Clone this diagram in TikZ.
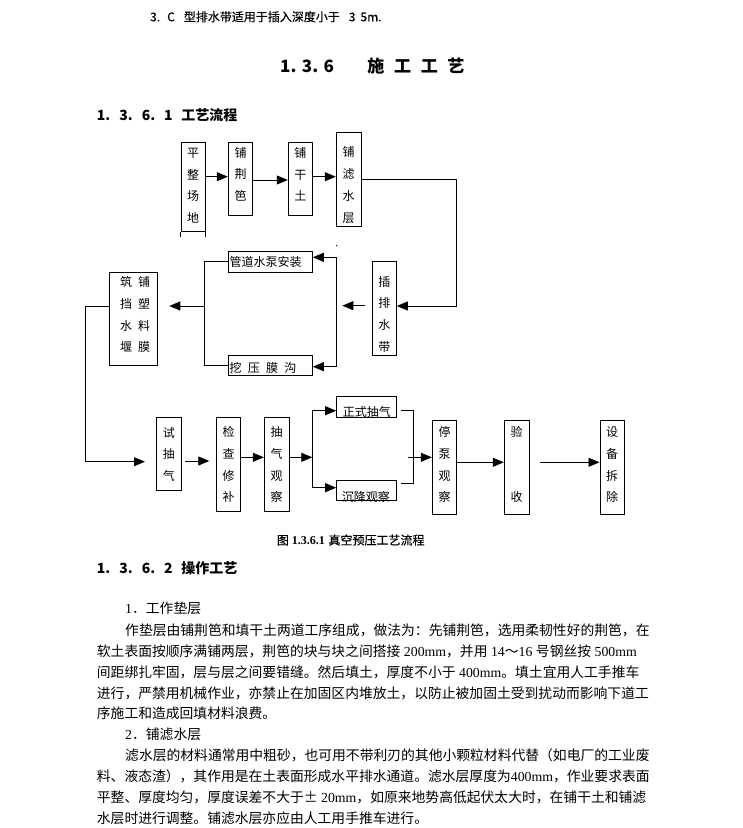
\documentclass[tikz,border=0pt]{standalone}
\usepackage{fontspec}
\setmainfont{Liberation Serif}
\newfontfamily\cjk{Noto Sans CJK SC}
\newfontfamily\cjkm{Noto Sans CJK SC}[FakeBold=0.5]
\usetikzlibrary{arrows.meta,fit}
\XeTeXinterchartokenstate=1
\XeTeXinterchartoks 1 1 = {\hskip 0pt plus 1pt\relax}
\XeTeXinterchartoks 1 2 = {\hskip 0pt plus 1pt\relax}
\XeTeXinterchartoks 1 3 = {\hskip 0pt plus 1pt\relax}
\XeTeXinterchartoks 2 1 = {\hskip 0pt plus 1pt\relax}
\XeTeXinterchartoks 3 1 = {\hskip 0pt plus 1pt\relax}
\XeTeXinterchartoks 3 2 = {\hskip 0pt plus 1pt\relax}
\XeTeXinterchartoks 3 3 = {\hskip 0pt plus 1pt\relax}
\newcommand\lat[1]{{\rmfamily #1}}
\newcommand\gapsp{\hspace{3.5pt}}
\newcommand\bodyf{\cjk\fontsize{13.8pt}{16pt}\selectfont}
\newcommand\boxf{\cjk\fontsize{12pt}{21.7pt}\selectfont}
\tikzset{
  box/.style={draw, line width=1pt, inner sep=0pt},
  vt/.style={align=center, inner sep=0pt, font=\boxf},
  ht/.style={anchor=base west, inner sep=0pt, font=\boxf},
  ln/.style={line width=0.8pt},
  arr/.style={line width=0.8pt, -{Triangle[length=11pt,width=9pt]}},
  body/.style={anchor=base west, inner sep=0pt, font=\bodyf},
}
\begin{document}
\begin{tikzpicture}[x=1pt,y=-1pt]
\useasboundingbox (0,0) rectangle (743,828);
\fill[white] (0,0) rectangle (743,828);

% header texts
\node[anchor=base west, inner sep=0pt, font=\cjkm\fontsize{12pt}{14pt}\selectfont] (t0) at (150,21.3) {3.\hspace{7pt}C\hspace{9pt}型排水带适用于插入深度小于\hspace{9pt}3\hspace{5pt}5m.};
\node[anchor=base west, inner sep=0pt, font=\cjk\bfseries\fontsize{17pt}{20pt}\selectfont] (title) at (280,72.2) {1.\hspace{5.4pt}3.\hspace{5.4pt}6\hspace{33.4pt}施\hspace{9.7pt}工\hspace{9.7pt}工\hspace{9.7pt}艺};
\node[anchor=base west, inner sep=0pt, font=\cjk\bfseries\fontsize{14pt}{16pt}\selectfont] (s1) at (96.7,120.3) {1.\hspace{9pt}3.\hspace{9pt}6.\hspace{9pt}1\hspace{8.6pt}工艺流程};
\node[anchor=base west, inner sep=0pt, font=\cjk\bfseries\fontsize{14pt}{16pt}\selectfont] (s2) at (96.7,573.6) {1.\hspace{9pt}3.\hspace{9pt}6.\hspace{9pt}2\hspace{8.6pt}操作工艺};

% boxes
\node[box, fit={(181,142) (205,231)}] (A) {};
\draw[line width=1pt] (A.south west) -- ++(0,5) (A.south east) -- ++(0,5);
\node[box, fit={(228.3,142.3) (252.7,215.3)}] (B) {};
\node[box, fit={(288.3,142.3) (312.3,215.3)}] (C) {};
\node[box, fit={(336.3,132) (361,226)}] (D) {};
\node[box, fit={(372.3,261.7) (396.3,355.3)}] (E) {};
\node[box, fit={(228.3,251.7) (312.3,272.3)}] (F) {};
\node[box, fit={(228.3,355.3) (312.3,375.7)}] (G) {};
\node[box, fit={(109,272) (157.3,365.7)}] (H) {};
\node[box, fit={(156.7,417.3) (181,490.7)}] (I) {};
\node[box, fit={(216.3,417.3) (240.7,511)}] (J) {};
\node[box, fit={(264.3,417.3) (289,511)}] (K) {};
\node[box, fit={(336.7,396.7) (396.7,417.3)}] (L) {};
\node[box, fit={(336.7,480) (396.7,500.7)}] (M) {};
\node[box, fit={(432.3,420.7) (456.7,514.3)}] (N) {};
\node[box, fit={(504.3,420.7) (529,514.3)}] (O) {};
\node[box, fit={(600,420.7) (624.3,514.3)}] (P) {};

% box texts
\node[vt] (At) at (193,185.8) {平\\整\\场\\地};
\node[vt] (Bt) at (240.5,174.2) {铺\\荆\\笆};
\node[vt] (Ct) at (300.3,174.2) {铺\\干\\土};
\node[vt] (Dt) at (348.7,185) {铺\\滤\\水\\层};
\node[vt] (Et) at (384.3,314.2) {插\\排\\水\\带};
\node[vt] (Ht) at (135,314.7) {筑\hspace{6pt}铺\\挡\hspace{6pt}塑\\水\hspace{6pt}料\\堰\hspace{6pt}膜};
\node[vt] (It) at (168.8,454.2) {试\\抽\\气};
\node[vt] (Jt) at (228.5,464.7) {检\\查\\修\\补};
\node[vt] (Kt) at (276.7,464.7) {抽\\气\\观\\察};
\node[vt] (Nt) at (444.5,464.7) {停\\泵\\观\\察};
\node[vt] (Ot) at (516.7,464.7) {验\\\mbox{}\\\mbox{}\\收};
\node[vt] (Pt) at (612.2,464.7) {设\\备\\拆\\除};
\node[ht] (Ft) at (229.3,266.3) {管道水泵安装};
\node[ht] (Gt) at (229.3,372.3) {挖\hspace{6.3pt}压\hspace{6.3pt}膜\hspace{6.3pt}沟};
\node[ht] (Lt) at (342.7,416.3) {正式抽气};
\node[ht] (Mt) at (341.7,501.3) {沉降观察};

% connectors, top row
\draw[arr] (A.east |- 0,176.7) -- (B.west |- 0,176.7);
\draw[arr] (B.east |- 0,180) -- (C.west |- 0,180);
\draw[arr] (C.east |- 0,176.7) -- (D.west |- 0,176.7);
\coordinate (j1) at (456.7,179.3);
\coordinate (j2) at (456.7,306);
\draw[ln] (D.east |- j1) -- (j1) -- (j2);
\draw[arr] (j2) -- (E.east |- j2);
\fill (336.7,245.7) circle (0.7pt);

% middle row
\coordinate (e1) at (365,305.7);
\coordinate (e2) at (342.3,305.7);
\draw[arr] (e1) -- (e2);
\coordinate (v1) at (336.7,257.3);
\coordinate (v2) at (336.7,366.7);
\draw[ln] (v1) -- (v2);
\draw[arr] (v1) -- (F.east |- v1);
\draw[arr] (v2) -- (G.east |- v2);
\coordinate (w1) at (204.3,261.7);
\coordinate (w2) at (204.3,365.7);
\coordinate (w3) at (204.3,306);
\coordinate (w4) at (169.3,306);
\draw[ln] (F.west |- w1) -- (w1) -- (w2) -- (G.west |- w2);
\draw[arr] (w3) -- (w4);
\coordinate (h1) at (85,306);
\coordinate (h2) at (85,461.7);
\coordinate (h3) at (145,461.7);
\draw[ln] (H.west |- h1) -- (h1) -- (h2);
\draw[arr] (h2) -- (h3);

% bottom row
\coordinate (i1) at (185,461);
\coordinate (i2) at (209.3,461);
\draw[arr] (i1) -- (i2);
\draw[arr] (J.east |- 0,457.3) -- (K.west |- 0,457.3);
\coordinate (k1) at (312.3,457.3);
\coordinate (k2) at (312.3,410.7);
\coordinate (k3) at (312.3,487.7);
\draw[arr] (K.east |- k1) -- (k1);
\draw[ln] (k2) -- (k3);
\draw[arr] (k2) -- (L.west |- k2);
\draw[arr] (k3) -- (M.west |- k3);
\coordinate (r1) at (400.7,410.7);
\coordinate (r2) at (413.3,410.7);
\coordinate (r3) at (413.3,483.3);
\coordinate (r4) at (400.7,483.3);
\draw[ln] (r1) -- (r2) -- (r3) -- (r4);
\coordinate (r5) at (408.3,457.3);
\draw[arr] (r5) -- (N.west |- r5);
\draw[arr] (N.east |- 0,462.3) -- (O.west |- 0,462.3);
\coordinate (o1) at (540,462.3);
\draw[arr] (o1) -- (P.west |- o1);

% caption
\node[anchor=base west, inner sep=0pt, font=\cjkm\fontsize{12pt}{14pt}\selectfont] (cap) at (276.7,544.6) {图\hspace{3pt}{\rmfamily\bfseries 1.3.6.1}\hspace{3.6pt}真空预压工艺流程};

% body text
\node[body] (h1t) at (125,613.2) {\lat{1}．工作垫层};
\node[body] (b0) at (125,635.2) {\hbox to 524pt{作垫层由铺荆笆和填干土两道工序组成，做法为：先铺荆笆，选用柔韧性好的荆笆，在}};
\node[body] (b1) at (96.7,656.1) {\hbox to 552.5pt{软土表面按顺序满铺两层，荆笆的块与块之间搭接\gapsp\lat{200mm}，并用\gapsp\lat{14}～\lat{16}\gapsp 号钢丝按\gapsp\lat{500mm}}};
\node[body] (b2) at (96.7,677.1) {\hbox to 552.5pt{间距绑扎牢固，层与层之间要错缝。然后填土，厚度不小于\gapsp\lat{400mm}。填土宜用人工手推车}};
\node[body] (b3) at (96.7,698.0) {\hbox to 552.5pt{进行，严禁用机械作业，亦禁止在加固区内堆放土，以防止被加固土受到扰动而影响下道工}};
\node[body] (b4) at (96.7,718.9) {序施工和造成回填材料浪费。};
\node[body] (h2t) at (125,739.9) {\lat{2}．铺滤水层};
\node[body] (b5) at (125,760.8) {\hbox to 524pt{滤水层的材料通常用中粗砂，也可用不带利刃的其他小颗粒材料代替（如电厂的工业废}};
\node[body] (b6) at (96.7,781.7) {\hbox to 552.5pt{料、液态渣），其作用是在土表面形成水平排水通道。滤水层厚度为\lat{400mm}，作业要求表面}};
\node[body] (b7) at (96.7,802.6) {\hbox to 552.5pt{平整、厚度均匀，厚度误差不大于\makebox[13.8pt]{±}\gapsp\lat{20mm}，如原来地势高低起伏太大时，在铺干土和铺滤}};
\node[body] (b8) at (96.7,823.6) {水层时进行调整。铺滤水层亦应由人工用手推车进行。};
\end{tikzpicture}
\end{document}
